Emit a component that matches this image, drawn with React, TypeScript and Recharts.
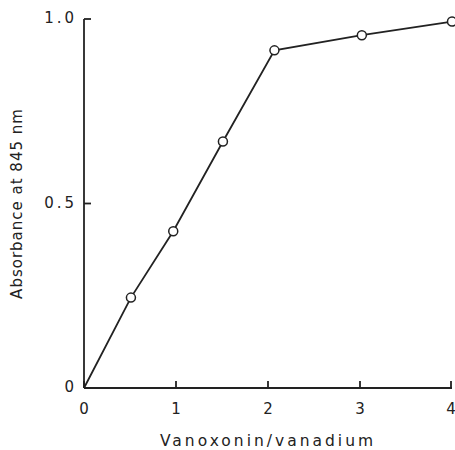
import React from "react";
import { LineChart, Line, XAxis, YAxis, Label } from "recharts";

const ratio = [0, 0.51, 0.97, 1.51, 2.07, 3.02, 4];
const absorbance = [0, 0.245, 0.425, 0.668, 0.915, 0.956, 0.993];
const xTicks = [0, 1, 2, 3, 4];
const yTicks = [0, 0.5, 1];
const yTickLabels = ["0", "0.5", "1.0"];

const data = ratio.map((r, i) => ({ r, a: absorbance[i] }));

const ink = "#222";
const font = "'DejaVu Sans', sans-serif";
const inTick = 7;

function OpenDot(props: any) {
    const { cx, cy, index } = props;
    // origin has no marker
    if (index === 0) return <g key={`d-${index}`} />;
    return <circle key={`d-${index}`} cx={cx} cy={cy} r={4.5} fill="#fff" stroke={ink} strokeWidth={1.5} />;
}

// ticks point into the plot, so the mark is drawn here with the label
function XTick(props: any) {
    const { x, y, payload } = props;
    const axisY = y - 14;
    return (
        <g>
            <line x1={x} y1={axisY} x2={x} y2={axisY - inTick} stroke={ink} strokeWidth={1.8} />
            <text x={x} y={y} dy="0.8em" textAnchor="middle" fill={ink} fontSize={15} fontFamily={font}>
                {payload.value}
            </text>
        </g>
    );
}

function YTick(props: any) {
    const { x, y, payload } = props;
    const axisX = x + 7;
    return (
        <g>
            <line x1={axisX} y1={y} x2={axisX + inTick} y2={y} stroke={ink} strokeWidth={1.8} />
            <text x={x} y={y - 1} dy="0.355em" textAnchor="end" fill={ink} fontSize={15} fontFamily={font} letterSpacing={3}>
                {yTickLabels[yTicks.indexOf(payload.value)]}
            </text>
        </g>
    );
}

export default function App() {
    return (
        <div style={{ position: "absolute", left: 0, top: 0, background: "#fff" }}>
            <LineChart width={455} height={450} data={data} margin={{ top: 19, right: 3, left: 0, bottom: 0 }}>
                <XAxis
                    dataKey="r"
                    type="number"
                    domain={[0, 4]}
                    ticks={xTicks}
                    height={62}
                    stroke={ink}
                    strokeWidth={1.8}
                    tickLine={false}
                    tickSize={0}
                    tickMargin={14}
                    tick={XTick}
                >
                    <Label
                        value="Vanoxonin/vanadium"
                        position="insideBottom"
                        offset={4}
                        fill={ink}
                        fontSize={15.5}
                        fontFamily={font}
                        letterSpacing={3}
                    />
                </XAxis>
                <YAxis
                    dataKey="a"
                    type="number"
                    domain={[0, 1]}
                    ticks={yTicks}
                    width={84}
                    stroke={ink}
                    strokeWidth={1.8}
                    tickLine={false}
                    tickSize={0}
                    tickMargin={7}
                    tick={YTick}
                >
                    <Label
                        content={({ viewBox }: any) => (
                            <text
                                x={viewBox.x + 22}
                                y={viewBox.y + viewBox.height / 2}
                                transform={`rotate(-90 ${viewBox.x + 22} ${viewBox.y + viewBox.height / 2})`}
                                textAnchor="middle"
                                fill={ink}
                                fontSize={15}
                                fontFamily={font}
                                letterSpacing={1}
                            >
                                Absorbance at 845 nm
                            </text>
                        )}
                    />
                </YAxis>
                <Line
                    dataKey="a"
                    type="linear"
                    stroke={ink}
                    strokeWidth={1.8}
                    dot={OpenDot}
                    activeDot={false}
                    isAnimationActive={false}
                />
            </LineChart>
        </div>
    );
}
